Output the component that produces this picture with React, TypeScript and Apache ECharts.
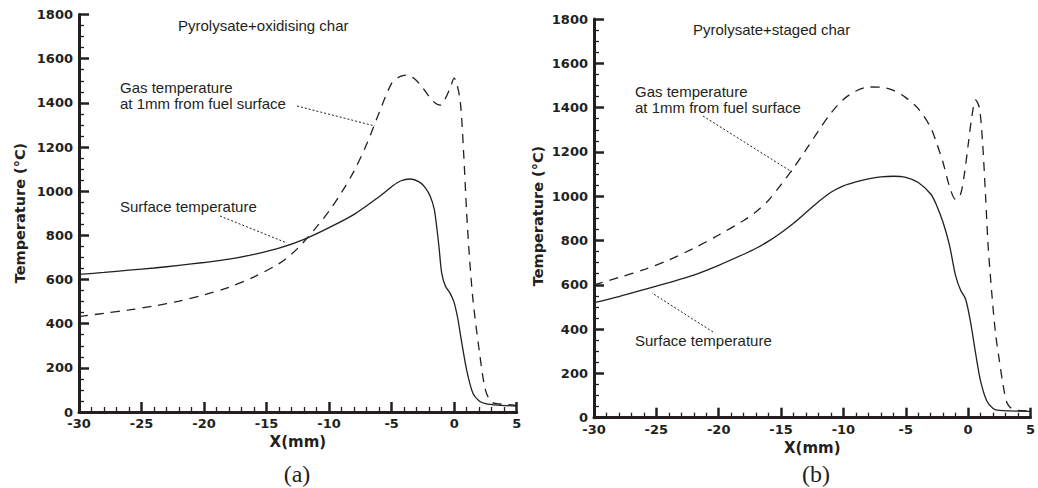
import React, { useEffect, useRef } from "react";
import * as echarts from "echarts";

// ---- Data ----
// (a) Pyrolysate + oxidising char
const aSurfX = [-30, -28, -26, -24, -22, -20, -18, -16, -14, -12, -10, -8, -6, -5, -4.3, -3.5, -2.8, -2.3, -1.9, -1.6, -1.4, -1.2, -1, -0.7, -0.3, 0, 0.3, 0.5, 1, 1.5, 2, 2.5, 3.5, 5];
const aSurfT = [623, 632, 642, 652, 664, 677, 692, 714, 742, 782, 835, 895, 975, 1020, 1046, 1055, 1042, 1015, 975, 920, 840, 740, 630, 570, 535, 495, 420, 350, 190, 85, 50, 38, 31, 27];
const aGasX = [-30, -28, -26, -24, -22, -20, -18, -16, -14, -13, -12, -11, -10, -9, -8, -7, -6, -5, -4.3, -3.8, -3.2, -2.6, -2, -1.5, -1.1, -0.7, -0.3, 0, 0.2, 0.5, 0.75, 1, 1.2, 1.5, 2, 2.5, 3, 4, 5];
const aGasT = [432, 447, 462, 480, 502, 530, 565, 612, 672, 715, 772, 838, 910, 995, 1092, 1212, 1355, 1488, 1520, 1526, 1510, 1475, 1428, 1398, 1390, 1420, 1470, 1512, 1490, 1400, 1180, 900, 720, 510, 280, 100, 45, 35, 30];

// (b) Pyrolysate + staged char
const bSurfX = [-30, -28, -26, -24, -22, -20, -18, -17, -16, -15, -14, -13, -12, -11, -10, -9, -8, -7, -6, -5, -4, -3, -2.5, -2, -1.5, -1, -0.6, -0.2, 0.2, 0.6, 1, 1.5, 2, 2.5, 5];
const bSurfT = [519, 547, 578, 610, 644, 688, 738, 765, 797, 835, 878, 926, 975, 1018, 1047, 1065, 1078, 1087, 1090, 1085, 1062, 1010, 955, 880, 780, 640, 575, 535, 430, 290, 165, 75, 42, 33, 29];
const bGasX = [-30, -28, -26, -24, -22, -20, -18, -17, -16, -15, -14, -13, -12, -11, -10, -9, -8, -7, -6, -5, -4, -3, -2.5, -2, -1.5, -1, -0.6, -0.3, 0, 0.3, 0.6, 0.9, 1.15, 1.4, 1.6, 1.9, 2.2, 2.5, 2.8, 3.1, 3.5, 4, 5];
const bGasT = [600, 633, 668, 712, 765, 825, 890, 930, 982, 1052, 1128, 1210, 1295, 1375, 1437, 1475, 1493, 1492, 1478, 1445, 1395, 1310, 1235, 1150, 1045, 985, 1010, 1100, 1230, 1360, 1435, 1400, 1250, 1000, 780, 560, 380, 260, 150, 70, 40, 33, 30];

// Axis ranges and texts
const xRange = [-30, 5];
const xStep = 5;
const yRange = [0, 1800];
const yStep = 200;
const panelTitles = ["Pyrolysate+oxidising char", "Pyrolysate+staged char"];
const panelTags = ["(a)", "(b)"];
const gasLabel = "Gas temperature\nat 1mm from fuel surface";
const surfLabel = "Surface temperature";
const xName = "X(mm)";
const yName = "Temperature (°C)";

const ink = "#231f20";
const tickFont = { color: ink, fontFamily: "DejaVu Sans", fontWeight: "bold" as const, fontSize: 13, lineHeight: 11 };

const zip = (xs: number[], ys: number[]) => xs.map((x, i) => [x, ys[i]]);
const plain = (v: number) => String(v);

function xAxisFor(gridIndex: number) {
  return {
    type: "value",
    gridIndex,
    min: xRange[0],
    max: xRange[1],
    interval: xStep,
    axisLine: { show: true, onZero: false, lineStyle: { color: ink, width: 3 } },
    axisTick: { show: true, inside: true, length: 10, lineStyle: { color: ink, width: 2.5 } },
    minorTick: { show: true, splitNumber: 5, length: 5, lineStyle: { color: ink, width: 1.3 } },
    splitLine: { show: false },
    axisLabel: { ...tickFont, margin: 6, formatter: plain },
    name: xName,
    nameLocation: "middle",
    nameGap: 19,
    nameTextStyle: { color: ink, fontFamily: "DejaVu Sans", fontWeight: "bold", fontSize: 15 },
  };
}

function yAxisFor(gridIndex: number) {
  return {
    type: "value",
    gridIndex,
    min: yRange[0],
    max: yRange[1],
    interval: yStep,
    axisLine: { show: true, onZero: false, lineStyle: { color: ink, width: 3 } },
    axisTick: { show: true, inside: true, length: 10, lineStyle: { color: ink, width: 2.5 } },
    minorTick: { show: true, splitNumber: 4, length: 5, lineStyle: { color: ink, width: 1.3 } },
    splitLine: { show: false },
    axisLabel: { ...tickFont, margin: 6, formatter: plain },
  };
}

function lineSeries(idx: number, data: number[][], dashed: boolean) {
  return {
    type: "line",
    xAxisIndex: idx,
    yAxisIndex: idx,
    data,
    showSymbol: false,
    smooth: 0.3,
    lineStyle: { color: ink, width: 1.3, type: dashed ? [9, 7] : "solid" },
    z: 3,
  };
}

const annoFont = "15px 'Liberation Sans', Arial, sans-serif";

function leader(x1: number, y1: number, x2: number, y2: number) {
  return {
    type: "line",
    shape: { x1, y1, x2, y2 },
    style: { stroke: ink, lineWidth: 1, lineDash: [2, 2] },
    z: 10,
  };
}

function label(text: string, x: number, y: number, font: string, align = "left") {
  return {
    type: "text",
    x,
    y,
    style: { text, font, fill: ink, align, verticalAlign: "middle", lineHeight: 16 },
    z: 10,
  };
}

export default function App() {
  const ref = useRef<HTMLDivElement>(null);

  useEffect(() => {
    if (!ref.current) return;
    const chart = echarts.init(ref.current, undefined, { renderer: "svg" });
    const yNameFont = "bold 14.5px 'DejaVu Sans', sans-serif";
    const tagFont = "24px 'Liberation Serif', 'Times New Roman', serif";
    chart.setOption({
      animation: false,
      backgroundColor: "#ffffff",
      grid: [
        { left: 79, top: 14.5, width: 437.7, height: 397.5 },
        { left: 594, top: 19, width: 437.7, height: 398.7 },
      ],
      xAxis: [xAxisFor(0), xAxisFor(1)],
      yAxis: [yAxisFor(0), yAxisFor(1)],
      series: [
        lineSeries(0, zip(aSurfX, aSurfT), false),
        lineSeries(0, zip(aGasX, aGasT), true),
        lineSeries(1, zip(bSurfX, bSurfT), false),
        lineSeries(1, zip(bGasX, bGasT), true),
      ],
      graphic: [
        {
          type: "text", x: 20, y: 213, rotation: Math.PI / 2,
          style: { text: yName, font: yNameFont, fill: ink, align: "center", verticalAlign: "middle" },
        },
        {
          type: "text", x: 538, y: 216, rotation: Math.PI / 2,
          style: { text: yName, font: yNameFont, fill: ink, align: "center", verticalAlign: "middle" },
        },
        label(panelTitles[0], 178, 25, annoFont),
        label(panelTitles[1], 693, 29, annoFont),
        label(gasLabel, 120, 95, annoFont),
        leader(297, 106, 375, 126),
        label(surfLabel, 120, 206, annoFont),
        leader(220, 216, 287, 243),
        label(gasLabel, 635, 99, annoFont),
        leader(703, 116, 792, 172),
        label(surfLabel, 635, 340, annoFont),
        leader(713, 332, 652, 293),
        label(panelTags[0], 297, 474, tagFont, "center"),
        label(panelTags[1], 816, 474, tagFont, "center"),
      ],
    });
    return () => chart.dispose();
  }, []);

  return (
    <div
      ref={ref}
      style={{ position: "fixed", left: 0, top: 0, width: 1038, height: 488, background: "#fff" }}
    />
  );
}
